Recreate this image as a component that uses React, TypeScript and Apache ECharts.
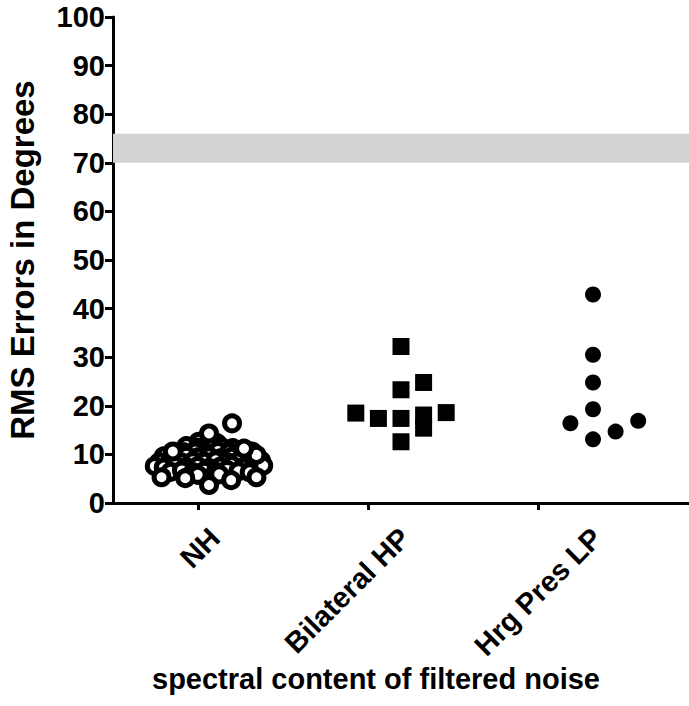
import React, { useEffect, useRef } from "react";
import * as echarts from "echarts";

// Groups on the x axis
const categories = ["NH", "Bilateral HP", "Hrg Pres LP"];

// RMS errors (degrees), with each point's horizontal slot in the scatter
// NH: dense cloud of open circles (inner points first, outer points last)
const nhValues = [
  12.6, 12.3,
  11.7, 11.4, 11.8, 11.5, 11.3,
  10.4, 10.6, 10.3, 10.7, 10.5, 10.2, 10.6,
  9.6, 9.3, 9.7, 9.4, 9.6, 9.2, 9.5, 9.7, 9.3,
  8.4, 8.7, 8.3, 8.6, 8.5, 8.8, 8.4, 8.6, 8.3, 8.7,
  7.6, 7.3, 7.7, 7.4, 7.6, 7.2, 7.5, 7.8, 7.3, 7.6, 7.7,
  6.4, 6.7, 6.3, 6.6, 6.4, 6.8, 6.5, 6.3,
  5.8, 5.9,
  5.3, 5.1, 4.7, 5.3, 3.7, 9.9, 11.2, 10.6, 14.3, 16.4,
];
const nhSlots = [
  -0.45, 0.35,
  -1.0, -0.5, 0.05, 0.55, 1.05,
  -1.1, -0.6, -0.1, 0.4, 0.9, 1.4, 1.9,
  -2.0, -1.5, -1.0, -0.5, 0, 0.5, 1.0, 1.5, 2.0,
  -2.2, -1.7, -1.2, -0.7, -0.2, 0.3, 0.8, 1.3, 1.8, 2.3,
  -2.4, -2.0, -1.5, -1.0, -0.5, 0, 0.5, 1.0, 1.5, 2.0, 2.4,
  -1.7, -1.2, -0.7, -0.2, 0.3, 0.8, 1.3, 1.8,
  -0.5, 0.45,
  -2.1, -1.05, 0.98, 2.1, 0, 2.1, 1.55, -1.6, 0, 1.02,
];

const bhpValues = [32.2, 23.3, 24.8, 18.5, 17.4, 17.4, 18.1, 15.4, 18.6, 12.6];
const bhpSlots = [0, 0, 1, -2, -1, 0, 1, 1, 2, 0];

const hrgValues = [42.9, 30.5, 24.8, 19.3, 16.4, 13.1, 14.7, 16.9];
const hrgSlots = [0, 0, 0, 0, -1, 0, 1, 2];

// Shaded reference band (degrees)
const bandRange = [70, 76];

// Axis ticks
const yMin = 0;
const yMax = 100;
const yInterval = 10;
const xTickValues = [0.443, 1.328, 2.214];
const xLabelValues = [0.53, 1.52, 2.52];

const SLOT = 0.1177;
const toPoints = (group: number, values: number[], slots: number[]) =>
  values.map((v, i) => [group + 0.5 + slots[i] * SLOT, v]);

const FONT = "'Liberation Sans', Arial, sans-serif";

export default function App() {
  const ref = useRef<HTMLDivElement>(null);
  useEffect(() => {
    if (!ref.current) return;
    const chart = echarts.init(ref.current, undefined, { renderer: "svg" });
    chart.setOption({
      animation: false,
      backgroundColor: "#fff",
      grid: { left: 113, right: 0, top: 17, bottom: 203, outerBoundsMode: "none", containLabel: false },
      xAxis: {
        type: "value",
        min: 0,
        max: 3,
        name: "spectral content of filtered noise",
        nameLocation: "middle",
        nameGap: 161,
        nameMoveOverlap: false,
        nameTextStyle: { fontFamily: FONT, fontWeight: "bold", fontSize: 29, color: "#000", padding: [0, 50, 0, 0] },
        axisLine: { show: true, onZero: false, lineStyle: { color: "#000", width: 3 } },
        axisTick: { show: true, length: 7, lineStyle: { color: "#000", width: 3 }, customValues: xTickValues },
        splitLine: { show: false },
        axisLabel: {
          customValues: xLabelValues,
          formatter: (v: number) => categories[Math.floor(v)] ?? "",
          rotate: 45,
          margin: 30,
          fontFamily: FONT,
          fontWeight: "bold",
          fontSize: 29,
          color: "#000",
        },
      },
      yAxis: {
        type: "value",
        min: yMin,
        max: yMax,
        interval: yInterval,
        name: "RMS Errors in Degrees",
        nameLocation: "middle",
        nameGap: 74,
        nameMoveOverlap: false,
        nameTextStyle: { fontFamily: FONT, fontWeight: "bold", fontSize: 33, color: "#000" },
        axisLine: { show: true, lineStyle: { color: "#000", width: 3 } },
        axisTick: { show: true, length: 8, lineStyle: { color: "#000", width: 3 } },
        splitLine: { show: false },
        axisLabel: { margin: 8, fontFamily: FONT, fontWeight: "bold", fontSize: 29, color: "#000" },
      },
      series: [
        {
          type: "scatter",
          name: categories[0],
          data: toPoints(0, nhValues, nhSlots),
          symbol: "circle",
          symbolSize: 15,
          itemStyle: { color: "#fff", borderColor: "#000", borderWidth: 5, opacity: 1 },
          markArea: {
            silent: true,
            itemStyle: { color: "#d3d3d3" },
            data: [[{ yAxis: bandRange[0] }, { yAxis: bandRange[1] }]],
          },
        },
        {
          type: "scatter",
          name: categories[1],
          data: toPoints(1, bhpValues, bhpSlots),
          symbol: "rect",
          symbolSize: 17,
          itemStyle: { color: "#000", opacity: 1 },
        },
        {
          type: "scatter",
          name: categories[2],
          data: toPoints(2, hrgValues, hrgSlots),
          symbol: "circle",
          symbolSize: 16,
          itemStyle: { color: "#000", opacity: 1 },
        },
      ],
    });
    return () => chart.dispose();
  }, []);
  return <div ref={ref} style={{ position: "fixed", left: 0, top: 0, width: 689, height: 706 }} />;
}
